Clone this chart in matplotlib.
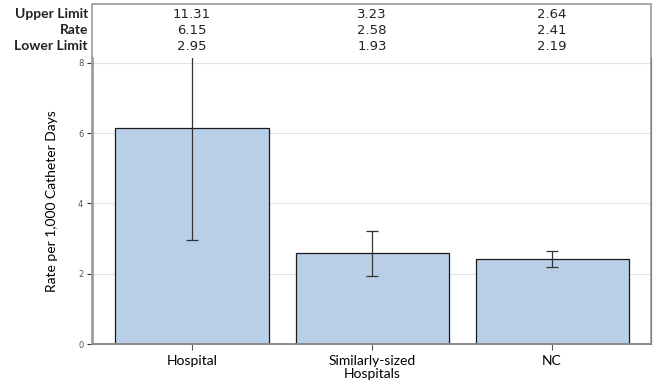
import numpy as np
import matplotlib
matplotlib.use('Agg')
import matplotlib.pyplot as plt
from matplotlib.patches import Rectangle

# data
categories = ['Hospital', 'Similarly-sized\nHospitals', 'NC']
rate = [6.15, 2.58, 2.41]
lower = [2.95, 1.93, 2.19]
upper = [11.31, 3.23, 2.64]
row_names = ['Upper Limit', 'Rate', 'Lower Limit']
yticks = [0, 2, 4, 6, 8]

fig = plt.figure(figsize=(6.58, 3.83), dpi=100)
ax = fig.add_axes([93/658, 39/383, 558/658, 286/383])

x = np.arange(len(categories))
ax.bar(x, rate, width=0.85, color='#b9cfe7', edgecolor='#1a1a1a', linewidth=0.9, zorder=2)
err = [np.array(rate) - np.array(lower), np.array(upper) - np.array(rate)]
ax.errorbar(x, rate, yerr=err, fmt='none', ecolor='#333333', elinewidth=0.9,
            capsize=4.5, capthick=0.9, zorder=3)

ax.set_xlim(-0.55, 2.55)
ax.set_ylim(0, 8.14)
ax.set_yticks(yticks)
ax.set_yticklabels([str(t) for t in yticks], fontsize=6, color='#555555', family='DejaVu Sans')
ax.set_xticks(x)
ax.set_xticklabels(categories, fontsize=10, family='Lato', linespacing=1.1)
ax.tick_params(axis='y', length=4, width=0.8, color='#333333', pad=3)
ax.tick_params(axis='x', length=4, width=0.8, color='#555555', pad=4)
ax.grid(axis='y', color='#e4e4e4', linewidth=0.8, zorder=0)
ax.set_axisbelow(True)
ax.set_ylabel('Rate per 1,000 Catheter Days', fontsize=10, family='Lato', labelpad=14)
ax.spines['top'].set_visible(False)
ax.spines['right'].set_color('#222222')
ax.spines['left'].set_color('#999999')
ax.spines['left'].set_linewidth(1.2)
ax.spines['bottom'].set_color('#333333')
ax.spines['bottom'].set_linewidth(1.2)

# table above the plot, framed with the plot
fig.add_artist(Rectangle((92/658, 39/383), 559/658, 340/383, transform=fig.transFigure,
                         fill=False, edgecolor='#999999', linewidth=1.2))
row_y = [14, 30, 46]
table_vals = [upper, rate, lower]
for name, yy, vals in zip(row_names, row_y, table_vals):
    fig.text(88/658, 1 - yy/383, name, ha='right', va='center', fontsize=10,
             fontweight='bold', family='Lato', color='#222222')
    for xi, v in zip(x, vals):
        xf = ax.transData.transform((xi, 0))[0] / fig.bbox.width
        fig.text(xf, 1 - yy/383, '%.2f' % v, ha='center', va='center', fontsize=9.5,
                 family='DejaVu Sans', color='#222222')

fig.savefig('out.png', dpi=100)
